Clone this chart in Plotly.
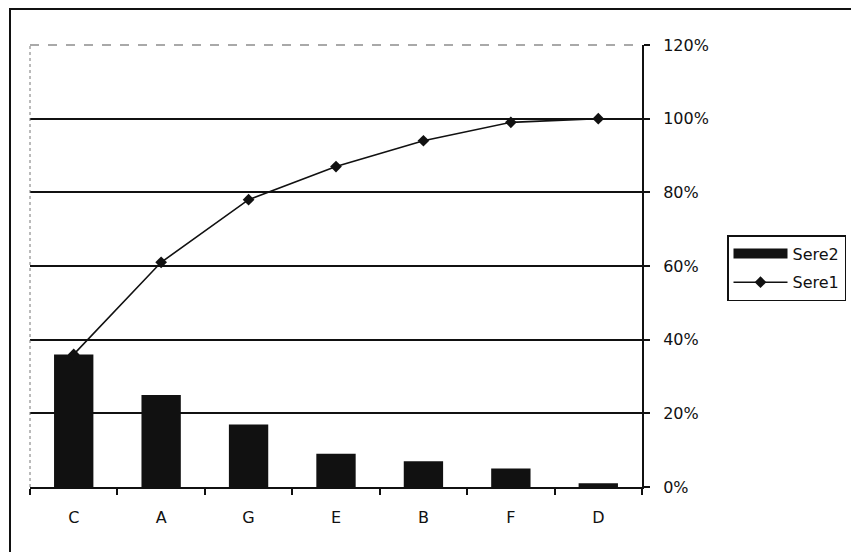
import plotly.graph_objects as go

# Pareto data: share of each category and its cumulative share
categories = ["C", "A", "G", "E", "B", "F", "D"]
sere2 = [0.36, 0.25, 0.17, 0.09, 0.07, 0.05, 0.01]
sere1 = [0.36, 0.61, 0.78, 0.87, 0.94, 0.99, 1.00]
tick_vals = [0, 0.2, 0.4, 0.6, 0.8, 1.0, 1.2]
tick_text = ["0%", "20%", "40%", "60%", "80%", "100%", "120%"]

W, H = 851, 552
L, R, T, B = 30, 209, 45, 65
INK = "#111111"

fig = go.Figure()
fig.add_trace(go.Bar(
    x=categories, y=sere2, name="Sere2", showlegend=False,
    marker=dict(color=INK, line=dict(width=0)),
))
# wide block swatch for the bar series in the legend
fig.add_trace(go.Scatter(
    x=[None], y=[None], name="Sere2", mode="lines", legendgroup="s2",
    line=dict(color=INK, width=16),
))
fig.add_trace(go.Scatter(
    x=categories, y=sere1, name="Sere1", mode="lines+markers", legendgroup="s1",
    line=dict(color=INK, width=1.6),
    marker=dict(symbol="diamond", size=9, color=INK),
))

font = dict(family="DejaVu Sans, Liberation Sans, sans-serif", size=16, color=INK)

pw, ph = W - L - R, H - T - B

fig.update_layout(
    width=W, height=H,
    margin=dict(l=L, r=R, t=T, b=B, autoexpand=False),
    paper_bgcolor="white", plot_bgcolor="white",
    font=font,
    bargap=0.55,
    showlegend=True,
    legend=dict(
        x=(727 - L) / pw, y=(H - B - 235) / ph, xanchor="left", yanchor="top",
        bgcolor="white", bordercolor=INK, borderwidth=1.5,
        font=dict(size=16), tracegroupgap=5,
        itemwidth=54,
    ),
    xaxis=dict(
        showline=True, linecolor=INK, linewidth=2,
        ticks="outside", ticklen=6, tickwidth=2, tickcolor=INK,
        tickson="boundaries", showgrid=False,
        ticklabelstandoff=15,
    ),
    yaxis=dict(
        side="right", range=[0, 1.2],
        tickvals=tick_vals, ticktext=tick_text,
        showline=True, linecolor=INK, linewidth=2,
        ticks="outside", ticklen=6, tickwidth=1.5, tickcolor=INK,
        showgrid=True, gridcolor=INK, gridwidth=2,
        zeroline=False, ticklabelstandoff=10,
    ),
)

# dashed plot-area border on the top and left sides
fig.add_shape(type="line", xref="paper", yref="paper", x0=0, x1=1, y0=1, y1=1,
              line=dict(color="#555555", width=1.2, dash="dash"))
fig.add_shape(type="line", xref="paper", yref="paper", x0=0, x1=0, y0=0, y1=1,
              line=dict(color="#777777", width=1, dash="dot"))

# outer chart frame
fig.add_shape(type="rect", xref="paper", yref="paper",
              x0=(10 - L) / pw, x1=(W + 20 - L) / pw,
              y0=(H - B - (H + 20)) / ph, y1=(H - B - 9) / ph,
              line=dict(color=INK, width=2), layer="below")

fig.write_html("out.html")
